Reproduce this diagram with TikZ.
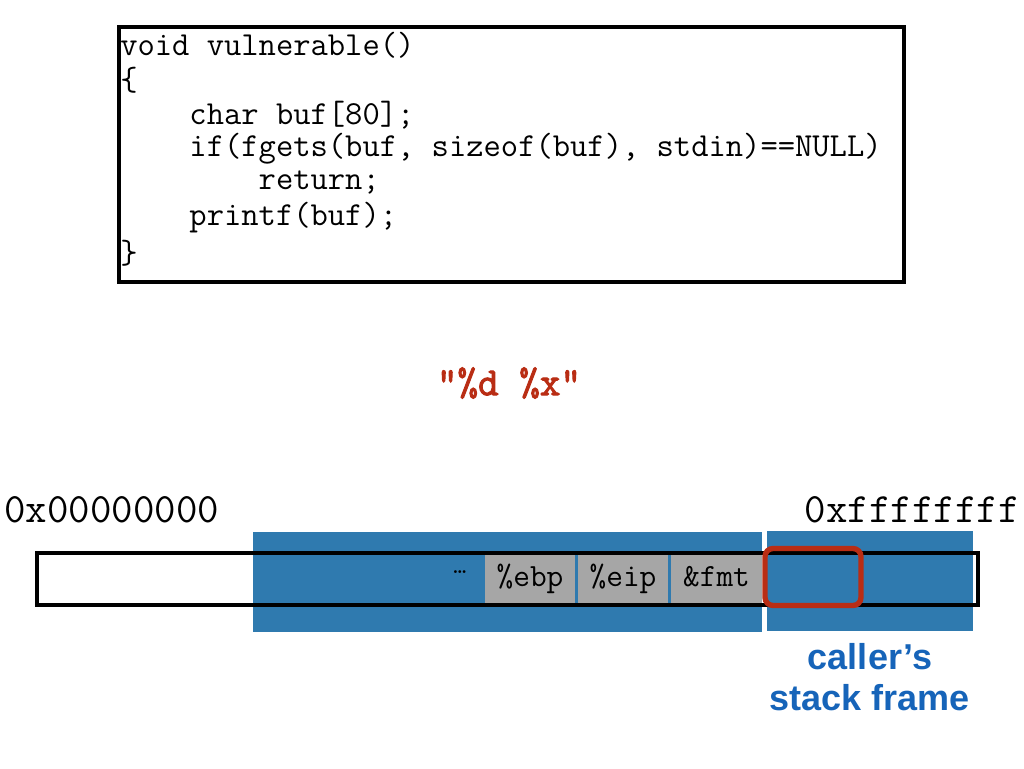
\documentclass[tikz,border=0pt]{standalone}
\usepackage{fontspec}
\setmainfont{Liberation Sans}
\newfontfamily\codefont{Latin Modern Mono}
\newfontfamily\codebold{Latin Modern Mono}[FakeBold=2.5]
\definecolor{stackblue}{RGB}{47,122,175}
\definecolor{cellgray}{RGB}{166,166,166}
\definecolor{fmtred}{RGB}{185,45,20}
\definecolor{labelblue}{RGB}{22,100,185}
\begin{document}
\begin{tikzpicture}[x=0.75pt,y=-0.75pt,
  codeline/.style={anchor=west,inner sep=0pt,font=\codefont\fontsize{25.2pt}{27pt}\selectfont},
  addr/.style={inner sep=0pt,font=\codefont\fontsize{31.3pt}{33pt}\selectfont},
  cell/.style={fill=cellgray,draw=none,minimum height=36pt,inner sep=0pt,text height=15pt,text depth=4pt,font=\codefont\fontsize{24.3pt}{26pt}\selectfont}]
\useasboundingbox (0,0) rectangle (1024,768);
% code box
\node[draw=black,line width=2.4pt,minimum width=785*0.75pt,minimum height=255*0.75pt,inner sep=0pt] (code) at (511.5,154.5) {};
\node[codeline] (l1) at (120,45) {void vulnerable()};
\node[codeline] (l2) at (120,80) {\{};
\node[codeline] (l3) at (120,115) {\ \ \ \ char buf[80];};
\node[codeline] (l4) at (120,149) {\ \ \ \ if(fgets(buf, sizeof(buf), stdin)==NULL)};
\node[codeline] (l5) at (120,183) {\ \ \ \ \ \ \ \ return;};
\node[codeline] (l6) at (120,218) {\ \ \ \ printf(buf);};
\node[codeline] (l7) at (120,253) {\}};
% format string
\node[inner sep=0pt,text=fmtred,font=\codebold\fontsize{30pt}{31pt}\selectfont] (fmt) at (509,383) {“\%d \%x"};
% addresses
\node[addr,anchor=west] (lo) at (4,510) {0x00000000};
\node[addr,anchor=east] (hi) at (1020,510) {0xffffffff};
% blue frames
\fill[stackblue] (253,532) rectangle (762,632);
\fill[stackblue] (767,531) rectangle (973,631);
% stack outline
\node[draw=black,line width=2.4pt,minimum width=941*0.75pt,minimum height=52*0.75pt,inner sep=0pt] (stack) at (507.5,579) {};
% cells
\node[cell,minimum width=90*0.75pt] (ebp) at (530,579) {\%ebp};
\node[cell,minimum width=90*0.75pt] (eip) at (623,579) {\%eip};
\node[cell,minimum width=91*0.75pt] (fmtcell) at (716.5,579) {\&fmt};
\node[inner sep=0pt,font=\codefont\fontsize{19pt}{22pt}\selectfont] (dots) at (460,572) {…};
% red highlight
\node[draw=fmtred,line width=4pt,rounded corners=6pt,minimum width=96*0.75pt,minimum height=57*0.75pt,inner sep=0pt] (hl) at (813,577) {};
% label
\node[align=center,text=labelblue,font=\bfseries\fontsize{27pt}{31pt}\selectfont,inner sep=0pt] (caller) at (870,677) {caller’s\\stack frame};
\end{tikzpicture}
\end{document}
